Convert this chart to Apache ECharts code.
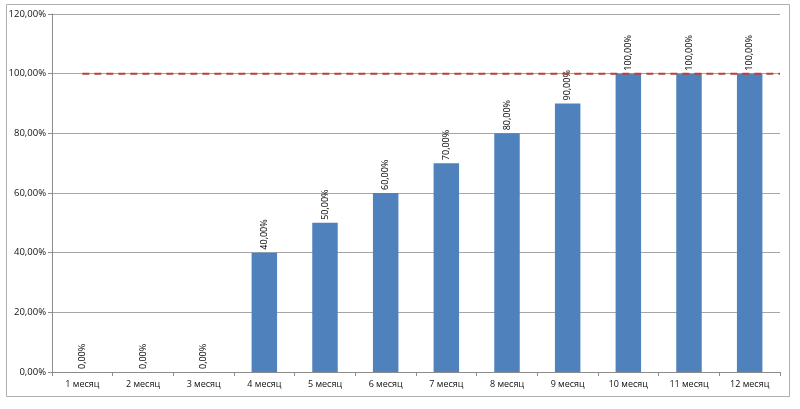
<!DOCTYPE html>
<html><head><meta charset="utf-8">
<script src="https://cdn.jsdelivr.net/npm/echarts@6/dist/echarts.min.js"></script>
<style>html,body{margin:0;padding:0;background:#fff}#c{width:800px;height:409px}</style>
</head><body><div id="c"></div>
<script>
const categories = ['1 месяц','2 месяц','3 месяц','4 месяц','5 месяц','6 месяц','7 месяц','8 месяц','9 месяц','10 месяц','11 месяц','12 месяц'];
const values = [0, 0, 0, 40, 50, 60, 70, 80, 90, 100, 100, 100];
const targetX = [0.5, 12];
const targetY = [100, 100];
const yTicks = {min: 0, max: 120, interval: 20};

const fmt = v => v.toFixed(2).replace('.', ',') + '%';
const font = '"Open Sans", "Liberation Sans", sans-serif';
const chart = echarts.init(document.getElementById('c'), null, {renderer: 'canvas'});
chart.setOption({
  animation: false,
  backgroundColor: '#fff',
  graphic: [{type: 'rect', shape: {x: 6.5, y: 4.5, width: 783, height: 392}, style: {fill: 'none', stroke: '#b0b0b0', lineWidth: 1}, silent: true, z: -1}],
  grid: {left: 52, right: 20, top: 14, bottom: 37},
  xAxis: [{
    type: 'category', data: categories,
    axisLine: {lineStyle: {color: '#8c8c8c'}},
    axisTick: {show: true, length: 4, alignWithLabel: false, lineStyle: {color: '#8c8c8c'}},
    axisLabel: {color: '#111', fontSize: 9, fontFamily: font, margin: 8}
  }, {
    type: 'value', min: 0, max: 12, show: false
  }],
  yAxis: {
    type: 'value', min: yTicks.min, max: yTicks.max, interval: yTicks.interval,
    axisLine: {show: true, lineStyle: {color: '#8c8c8c'}},
    axisTick: {show: true, length: 4, lineStyle: {color: '#8c8c8c'}},
    splitLine: {lineStyle: {color: '#a6a6a6'}},
    axisLabel: {color: '#111', fontSize: 9.5, fontFamily: font, margin: 6, formatter: fmt}
  },
  series: [{
    type: 'bar', data: values, barWidth: '42%', xAxisIndex: 0,
    itemStyle: {color: '#4f81bd'},
    label: {show: true, position: 'top', rotate: 90, align: 'left', verticalAlign: 'middle', distance: 3,
      color: '#000', fontSize: 9, fontFamily: font, formatter: p => fmt(p.value)}
  }, {
    type: 'line', xAxisIndex: 1, data: targetX.map((x, i) => [x, targetY[i]]),
    symbol: 'none', lineStyle: {color: '#b8403d', type: [7, 5], width: 2}, z: 5
  }]
});
</script></body></html>
